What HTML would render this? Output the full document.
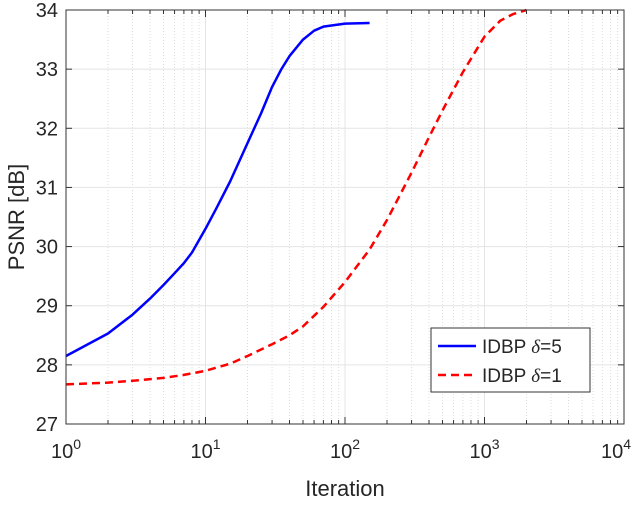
<!DOCTYPE html>
<html><head><meta charset="utf-8"><style>
body{margin:0;background:#fff;}
svg{font-family:"Liberation Sans",sans-serif;}
</style></head><body>
<svg id="chart" width="640" height="500">
<rect width="640" height="500" fill="#fff"/>
<g id="grid"></g>
<g id="series"></g>
<g id="axes"></g>
</svg>
<script>
const blueIter=[1,2,3,4,5,6,7,8,10,12,15,20,25,30,35,40,50,60,70,100,150];
const bluePsnr=[28.15,28.53,28.85,29.12,29.35,29.55,29.72,29.9,30.3,30.65,31.1,31.75,32.25,32.7,33.0,33.22,33.5,33.65,33.72,33.77,33.78];
const redIter=[1,2,3,5,7,10,15,20,30,40,50,70,100,150,200,300,400,500,700,1000,1300,1600,2000];
const redPsnr=[27.67,27.7,27.73,27.78,27.83,27.9,28.02,28.15,28.35,28.5,28.65,28.98,29.4,29.95,30.45,31.25,31.85,32.3,32.95,33.55,33.82,33.93,34.0];
const xTicks=[0,1,2,3,4];
const yTicks=[27,28,29,30,31,32,33,34];
const L=66,R=624,T=10,B=424;
const sx=v=>L+(Math.log10(v)-0)/4*(R-L);
const sy=v=>B-(v-27)/7*(B-T);
const NS='http://www.w3.org/2000/svg';
function mk(tag,attrs,parent,text){const e=document.createElementNS(NS,tag);for(const k in attrs)e.setAttribute(k,attrs[k]);if(text!==undefined)e.textContent=text;parent.appendChild(e);return e;}
const grid=document.getElementById('grid'),axes=document.getElementById('axes'),ser=document.getElementById('series');
for(let d=0;d<4;d++)for(let m=2;m<=9;m++){const x=sx(m*Math.pow(10,d));
 const g=mk('line',{x1:x,x2:x,y1:T,y2:B,stroke:'#ddd','stroke-dasharray':'1,2'},grid);
 
 mk('line',{x1:x,x2:x,y1:B,y2:B-4,stroke:'#333'},axes);mk('line',{x1:x,x2:x,y1:T,y2:T+4,stroke:'#333'},axes);}
xTicks.forEach(t=>{const x=sx(Math.pow(10,t));
 const g=mk('line',{x1:x,x2:x,y1:T,y2:B,stroke:'#e4e4e4'},grid);
 
 mk('line',{x1:x,x2:x,y1:B,y2:B-7,stroke:'#333'},axes);mk('line',{x1:x,x2:x,y1:T,y2:T+7,stroke:'#333'},axes);
 const tx=mk('text',{x:x+(t==4?-8:0),y:B+34,'text-anchor':'middle','font-size':20,fill:'#262626'},axes);
 
 mk('tspan',{},tx,'10');mk('tspan',{dy:-9,'font-size':14},tx,String(t));});
yTicks.forEach(t=>{const y=sy(t);
 const g=mk('line',{x1:L,x2:R,y1:y,y2:y,stroke:'#e4e4e4'},grid);
 
 mk('line',{x1:L,x2:L+6,y1:y,y2:y,stroke:'#333'},axes);mk('line',{x1:R,x2:R-6,y1:y,y2:y,stroke:'#333'},axes);
 const tx=mk('text',{x:L-8,y:y+7,'text-anchor':'end','font-size':20,fill:'#262626'},axes,String(t));
 });
const box=mk('rect',{x:L,y:T,width:R-L,height:B-T,fill:'none',stroke:'#333','stroke-width':1},axes);

const xl=mk('text',{x:(L+R)/2,y:496,'text-anchor':'middle','font-size':22,fill:'#262626'},axes,'Iteration');

const yl=mk('text',{x:0,y:0,transform:'translate(24,'+((T+B)/2)+') rotate(-90)','text-anchor':'middle','font-size':22,fill:'#262626'},axes,'PSNR [dB]');

const pts=(xs,ys)=>xs.map((v,i)=>sx(v).toFixed(1)+','+sy(ys[i]).toFixed(1)).join(' ');
const b=mk('polyline',{points:pts(blueIter,bluePsnr),fill:'none',stroke:'#0000ff','stroke-width':2.5,'stroke-linejoin':'round'},ser);

const r=mk('polyline',{points:pts(redIter,redPsnr),fill:'none',stroke:'#ff0000','stroke-width':2.5,'stroke-dasharray':'8,5','stroke-linejoin':'round'},ser);

const lg=mk('g',{},axes);

mk('rect',{x:431,y:328,width:159,height:64,fill:'#fff',stroke:'#333'},lg);
mk('line',{x1:438,x2:476,y1:346,y2:346,stroke:'#0000ff','stroke-width':2.5},lg);
mk('line',{x1:438,x2:476,y1:375,y2:375,stroke:'#ff0000','stroke-width':2.5,'stroke-dasharray':'8,5'},lg);
const t1=mk('text',{x:482,y:353,'font-size':19,fill:'#262626'},lg);

mk('tspan',{},t1,'IDBP ');mk('tspan',{'font-style':'italic','font-family':'Liberation Serif'},t1,'δ');mk('tspan',{},t1,'=5');
const t2=mk('text',{x:482,y:382,'font-size':19,fill:'#262626'},lg);

mk('tspan',{},t2,'IDBP ');mk('tspan',{'font-style':'italic','font-family':'Liberation Serif'},t2,'δ');mk('tspan',{},t2,'=1');
</script>
</body></html>
